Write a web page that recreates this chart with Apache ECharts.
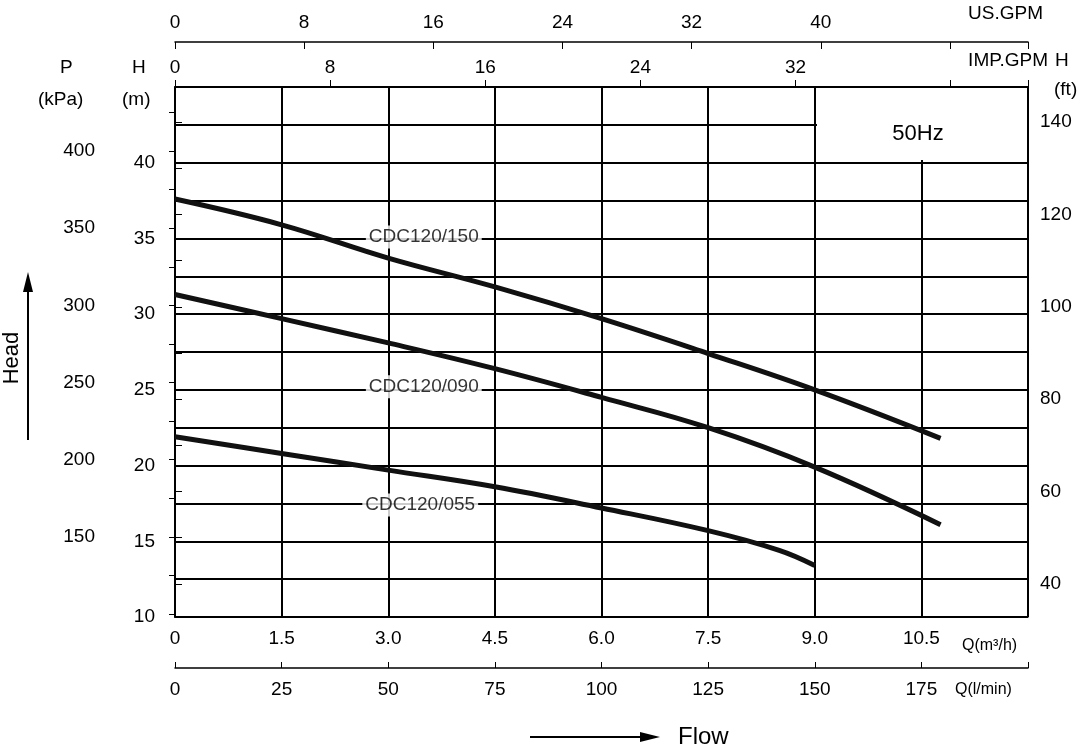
<!DOCTYPE html>
<html><head><meta charset="utf-8">
<script src="https://cdn.jsdelivr.net/npm/echarts@6/dist/echarts.min.js"></script>
<style>html,body{margin:0;background:#fff}#c{width:1088px;height:747px}</style>
</head><body><div id="c"></div>
<script>
const flowQ = [0, 1.5, 3.0, 4.5, 6.0, 7.5, 9.0];
const cdc150 = [[0,37.6],[1.5,35.9],[3.0,33.7],[4.5,31.8],[6.0,29.7],[7.5,27.4],[9.0,25.0],[10.77,21.8]];
const cdc090 = [[0,31.3],[1.5,29.7],[3.0,28.1],[4.5,26.4],[6.0,24.5],[7.5,22.5],[9.0,19.9],[10.77,16.1]];
const cdc055 = [[0,21.9],[1.5,20.8],[3.0,19.7],[4.5,18.6],[6.0,17.2],[7.5,15.7],[8.5,14.4],[9.0,13.4]];
const curveNames = ['CDC120/150','CDC120/090','CDC120/055'];
const labelPos = [[3.5,35.1],[3.5,25.2],[3.45,17.4]];
const kPaTicks = [150,200,250,300,350,400];
const ftTicks = [40,60,80,100,120,140];
const F = 'Liberation Sans, Arial, sans-serif';
const fs = 19;
const ch = echarts.init(document.getElementById('c'));
const kPaMinor=[]; for(let v=100;v<=425;v+=25) kPaMinor.push(v);
const ftMinor=[]; for(let v=40;v<=140;v+=10) ftMinor.push(v);
const txt = {color:'#000', fontFamily:F, fontSize:fs};
const line = {show:true,lineStyle:{color:'#000',width:1.5}};
ch.setOption({
  animation:false,
  grid:{left:175,right:60,top:87,bottom:130},
  xAxis:[
    {type:'value',min:0,max:12,interval:1.5,position:'bottom',axisLine:line,axisTick:{show:false},
     splitLine:{lineStyle:{color:'#000',width:2}},
     axisLabel:Object.assign({margin:12,formatter:v=>v===12?'':(v===0?'0':v.toFixed(1))},txt)},
    {type:'value',min:0,max:200,interval:25,position:'bottom',offset:51,axisLine:line,
     axisTick:{show:true,inside:true,length:6,lineStyle:{color:'#000'}},splitLine:{show:false},
     axisLabel:Object.assign({margin:12,formatter:v=>v===200?'':v},txt)},
    {type:'value',min:0,max:12/0.2728,interval:8,position:'top',offset:0,axisLine:line,
     axisTick:{show:true,length:7,lineStyle:{color:'#000'}},splitLine:{show:false},
     axisLabel:Object.assign({margin:10,formatter:v=>v>=40?'':v},txt)},
    {type:'value',min:0,max:12*4.403,interval:8,position:'top',offset:45,axisLine:line,
     axisTick:{show:true,inside:true,length:7,lineStyle:{color:'#000'}},splitLine:{show:false},
     axisLabel:Object.assign({margin:10,formatter:v=>v>=48?'':v},txt)}
  ],
  yAxis:[
    {type:'value',min:10,max:45,interval:2.5,position:'left',axisLine:line,axisTick:{show:false},
     splitLine:{lineStyle:{color:'#000',width:2}},
     axisLabel:Object.assign({margin:20,formatter:v=>(v%5===0&&v<45)?v:''},txt)},
    {type:'value',min:98.1,max:441.45,position:'left',offset:70,axisLine:line,splitLine:{show:false},
     axisTick:{show:true,customValues:kPaMinor,length:6,lineStyle:{color:'#000'}},
     axisLabel:Object.assign({customValues:kPaTicks,margin:10},txt)},
    {type:'value',min:32.81,max:147.64,position:'right',axisLine:line,splitLine:{show:false},
     axisTick:{show:true,customValues:ftMinor,length:7,lineStyle:{color:'#000'}},
     axisLabel:Object.assign({customValues:ftTicks,margin:12},txt)}
  ],
  series:[
    ...[cdc150,cdc090,cdc055].map(d=>({type:'line',data:d,smooth:0.4,symbol:'none',
      lineStyle:{color:'#111',width:5},z:5})),
    {type:'scatter',symbol:'circle',symbolSize:1,itemStyle:{color:'rgba(0,0,0,0)'},z:10,
     data:labelPos.map((p,i)=>({value:p,name:curveNames[i]})),
     label:{show:true,position:'inside',formatter:p=>p.name,backgroundColor:'#fff',padding:[2,3],
       color:'#000',fontFamily:F,fontSize:fs}}
  ],
  graphic:[
    {type:'rect',shape:{x:817,y:88,width:210,height:72},style:{fill:'#fff'},z:100},
    {type:'text',x:918,y:134,style:{text:'50Hz',font:'22px '+F,fill:'#000',textAlign:'center',textVerticalAlign:'middle'},z:101},
    {type:'text',x:1043,y:4,style:{text:'US.GPM',font:fs+'px '+F,fill:'#000',textAlign:'right'}},
    {type:'text',x:1048,y:51,style:{text:'IMP.GPM',font:fs+'px '+F,fill:'#000',textAlign:'right'}},
    {type:'text',x:1055,y:51,style:{text:'H',font:fs+'px '+F,fill:'#000'}},
    {type:'text',x:1054,y:80,style:{text:'(ft)',font:fs+'px '+F,fill:'#000'}},
    {type:'text',x:60,y:58,style:{text:'P',font:fs+'px '+F,fill:'#000'}},
    {type:'text',x:38,y:90,style:{text:'(kPa)',font:fs+'px '+F,fill:'#000'}},
    {type:'text',x:132,y:58,style:{text:'H',font:fs+'px '+F,fill:'#000'}},
    {type:'text',x:122,y:90,style:{text:'(m)',font:fs+'px '+F,fill:'#000'}},
    {type:'text',x:962,y:638,style:{text:'Q(m³/h)',font:'16px '+F,fill:'#000'}},
    {type:'text',x:955,y:682,style:{text:'Q(l/min)',font:'16px '+F,fill:'#000'}},
    {type:'line',shape:{x1:28,y1:440,x2:28,y2:285},style:{stroke:'#000',lineWidth:2}},
    {type:'polygon',shape:{points:[[28,272],[23,292],[33,292]]},style:{fill:'#000'}},
    {type:'text',x:12,y:358,rotation:Math.PI/2,style:{text:'Head',font:'22px '+F,fill:'#000',textAlign:'center',textVerticalAlign:'middle'}},
    {type:'line',shape:{x1:530,y1:737,x2:645,y2:737},style:{stroke:'#000',lineWidth:2}},
    {type:'polygon',shape:{points:[[660,737],[640,732],[640,742]]},style:{fill:'#000'}},
    {type:'text',x:678,y:737,style:{text:'Flow',font:'24px '+F,fill:'#000',textVerticalAlign:'middle'}}
  ]
});
</script></body></html>
